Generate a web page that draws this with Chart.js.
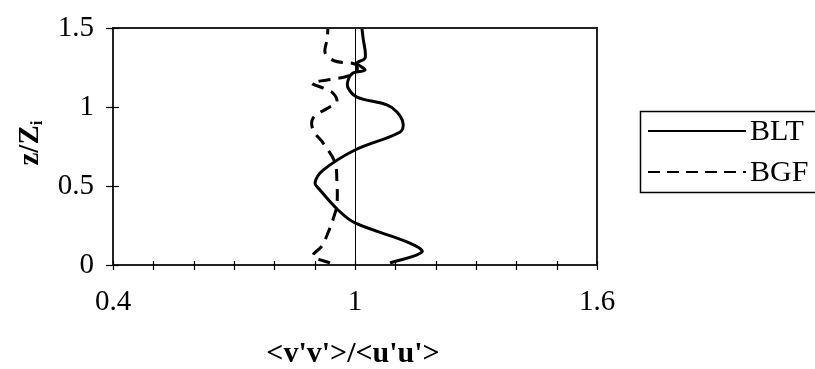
<!DOCTYPE html>
<html>
<head>
<meta charset="utf-8">
<script src="https://cdn.jsdelivr.net/npm/chart.js@4/dist/chart.umd.min.js"></script>
<style>
  html, body { margin: 0; padding: 0; background: #fff; }
  #wrap { width: 815px; height: 369px; }
</style>
</head>
<body>
<div id="wrap"><canvas id="chart" width="815" height="369"></canvas></div>
<script>
// values, listed from the bottom (z/Zi = 0) up
var bltRatio = [1.087, 1.166, 1.136, 1.0, 0.958, 0.913, 0.901, 0.921, 1.0, 1.112, 1.119, 1.104, 1.079, 1.005, 0.983, 0.983, 0.995, 1.025, 1.005, 1.025, 1.02, 1.017];
var bltHeight = [0.013, 0.082, 0.139, 0.266, 0.348, 0.475, 0.52, 0.60, 0.728, 0.842, 0.899, 0.968, 1.013, 1.063, 1.12, 1.17, 1.215, 1.234, 1.278, 1.31, 1.437, 1.5];

var bgfRatio = [0.938, 0.896, 0.918, 0.933, 0.945, 0.955, 0.955, 0.950, 0.921, 0.896, 0.896, 0.933, 0.955, 0.945, 0.921, 0.893, 0.931, 0.983, 1.005, 1.0, 0.950, 0.926, 0.931, 0.933];
var bgfHeight = [0.013, 0.057, 0.120, 0.203, 0.285, 0.380, 0.538, 0.652, 0.772, 0.854, 0.930, 0.994, 1.032, 1.089, 1.120, 1.152, 1.171, 1.196, 1.234, 1.272, 1.291, 1.342, 1.430, 1.5];

var xTickValues = [0.4, 0.5, 0.6, 0.7, 0.8, 0.9, 1.0, 1.1, 1.2, 1.3, 1.4, 1.5, 1.6];
var xTickLabels = { "0.4": "0.4", "1.0": "1", "1.6": "1.6" };
var yTickValues = [0, 0.5, 1, 1.5];
var yTickLabels = ["0", "0.5", "1", "1.5"];

var seriesNames = ["BLT", "BGF"];

var serif = "'Liberation Serif', 'Times New Roman', serif";

function toPoints(xs, ys) {
	return xs.map(function (v, i) { return { x: v, y: ys[i] }; });
}

// axis box, ticks, titles and the legend drawn on top of the chart
var decorPlugin = {
	id: "decor",
	afterDraw: function (chart) {
		var ctx = chart.ctx;
		var a = chart.chartArea;
		var xs = chart.scales.x;
		var ys = chart.scales.y;
		ctx.save();

		// reference line at x = 1
		ctx.strokeStyle = "#000";
		ctx.lineWidth = 1;
		var x1 = Math.round(xs.getPixelForValue(1)) + 0.5;
		ctx.beginPath();
		ctx.moveTo(x1, a.top);
		ctx.lineTo(x1, a.bottom);
		ctx.stroke();

		// plot frame
		ctx.strokeStyle = "#222";
		ctx.lineWidth = 2;
		ctx.strokeRect(a.left, a.top, a.right - a.left, a.bottom - a.top);

		// tick marks crossing the axes
		ctx.lineWidth = 1.2;
		ctx.strokeStyle = "#000";
		xTickValues.forEach(function (v) {
			var px = Math.round(xs.getPixelForValue(v)) + 0.5;
			ctx.beginPath();
			ctx.moveTo(px, a.bottom - 4);
			ctx.lineTo(px, a.bottom + 5);
			ctx.stroke();
		});
		yTickValues.forEach(function (v) {
			var py = Math.round(ys.getPixelForValue(v)) + 0.5;
			ctx.beginPath();
			ctx.moveTo(a.left - 7, py);
			ctx.lineTo(a.left + 6, py);
			ctx.stroke();
		});

		// x title
		ctx.fillStyle = "#000";
		ctx.font = "bold 30px " + serif;
		ctx.textAlign = "center";
		ctx.textBaseline = "middle";
		ctx.fillText("<v'v'>/<u'u'>", 353, 354);

		// y title with subscript i
		ctx.save();
		ctx.translate(28, 143);
		ctx.rotate(-Math.PI / 2);
		ctx.font = "bold 29px " + serif;
		var main = "z/Z";
		var w1 = ctx.measureText(main).width;
		ctx.font = "bold 17px " + serif;
		var w2 = ctx.measureText("i").width;
		var start = -(w1 + w2) / 2;
		ctx.textAlign = "left";
		ctx.textBaseline = "alphabetic";
		ctx.font = "bold 29px " + serif;
		ctx.fillText(main, start, 10);
		ctx.font = "bold 17px " + serif;
		ctx.fillText("i", start + w1, 14);
		ctx.restore();

		// legend box
		ctx.strokeStyle = "#000";
		ctx.lineWidth = 1.5;
		ctx.strokeRect(640.5, 111.5, 200, 81);
		var rows = [131, 172];
		ctx.font = "30px " + serif;
		ctx.textAlign = "left";
		ctx.textBaseline = "middle";
		seriesNames.forEach(function (name, i) {
			ctx.lineWidth = 2;
			ctx.setLineDash(i === 0 ? [] : [12, 7]);
			ctx.beginPath();
			ctx.moveTo(648, rows[i]);
			ctx.lineTo(746, rows[i]);
			ctx.stroke();
			ctx.setLineDash([]);
			ctx.fillText(name, 750, rows[i] + 1);
		});

		ctx.restore();
	}
};

var chart = new Chart(document.getElementById("chart"), {
	type: "scatter",
	data: {
		datasets: [
			{
				label: seriesNames[0],
				data: toPoints(bltRatio, bltHeight),
				showLine: true,
				borderColor: "#000",
				borderWidth: 3,
				pointRadius: 0,
				tension: 0.35
			},
			{
				label: seriesNames[1],
				data: toPoints(bgfRatio, bgfHeight),
				showLine: true,
				borderColor: "#000",
				borderWidth: 3,
				borderDash: [12, 8],
				pointRadius: 0,
				tension: 0.35
			}
		]
	},
	options: {
		responsive: false,
		animation: false,
		layout: { padding: { top: 28, right: 218, left: 0, bottom: 0 } },
		plugins: {
			legend: { display: false },
			tooltip: { enabled: false }
		},
		scales: {
			x: {
				type: "linear",
				min: 0.4,
				max: 1.6,
				grid: { display: false, drawTicks: false },
				border: { display: false },
				afterBuildTicks: function (scale) {
					scale.ticks = xTickValues.map(function (v) { return { value: v }; });
				},
				afterFit: function (scale) {
					scale.height = 104;
					scale.paddingLeft = 0;
					scale.paddingRight = 0;
				},
				ticks: {
					autoSkip: false,
					maxRotation: 0,
					padding: 20,
					color: "#000",
					font: { family: serif, size: 29 },
					callback: function (v) {
						var key = Number(v).toFixed(1);
						return xTickLabels[key] || "";
					}
				}
			},
			y: {
				type: "linear",
				min: 0,
				max: 1.5,
				grid: { display: false, drawTicks: false },
				border: { display: false },
				afterBuildTicks: function (scale) {
					scale.ticks = yTickValues.map(function (v) { return { value: v }; });
				},
				afterFit: function (scale) {
					scale.width = 113;
					scale.paddingTop = 0;
					scale.paddingBottom = 0;
				},
				ticks: {
					autoSkip: false,
					padding: 19,
					color: "#000",
					font: { family: serif, size: 29 },
					callback: function (v) {
						var i = yTickValues.indexOf(v);
						return i >= 0 ? yTickLabels[i] : "";
					}
				}
			}
		}
	},
	plugins: [decorPlugin]
});
</script>
</body>
</html>
